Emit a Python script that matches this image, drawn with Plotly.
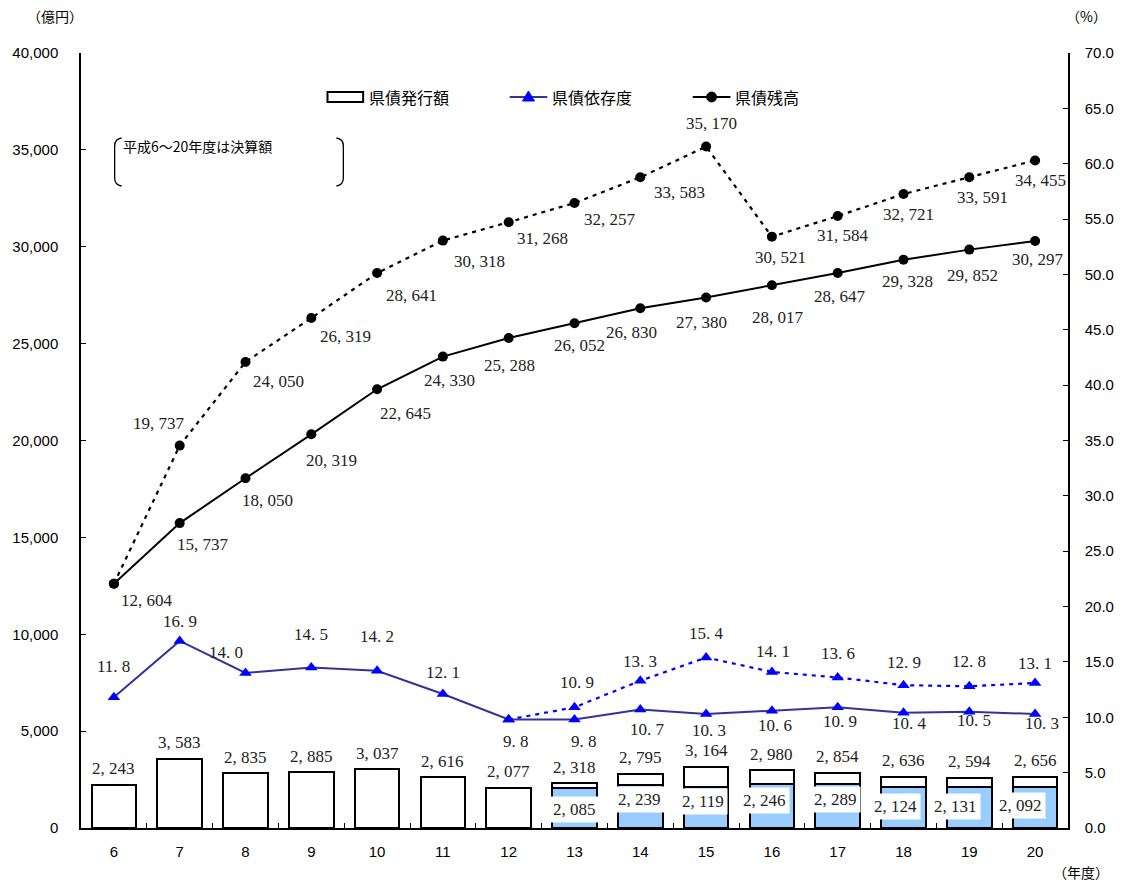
import plotly.graph_objects as go

# ---- data -------------------------------------------------------------
years = ["6", "7", "8", "9", "10", "11", "12", "13", "14", "15", "16", "17", "18", "19", "20"]

# 県債発行額 (億円): total issued, and the lower (shaded) part from 13
issue_total = [2243, 3583, 2835, 2885, 3037, 2616, 2077, 2318, 2795, 3164, 2980, 2854, 2636, 2594, 2656]
issue_lower = [None, None, None, None, None, None, None, 2085, 2239, 2119, 2246, 2289, 2124, 2131, 2092]

# 県債残高 (億円)
balance_solid = [12604, 15737, 18050, 20319, 22645, 24330, 25288, 26052, 26830, 27380, 28017, 28647, 29328, 29852, 30297]
balance_dotted = [12604, 19737, 24050, 26319, 28641, 30318, 31268, 32257, 33583, 35170, 30521, 31584, 32721, 33591, 34455]

# 県債依存度 (%)
ratio_solid = [11.8, 16.9, 14.0, 14.5, 14.2, 12.1, 9.8, 9.8, 10.7, 10.3, 10.6, 10.9, 10.4, 10.5, 10.3]
ratio_dotted = [None, None, None, None, None, None, 9.8, 10.9, 13.3, 15.4, 14.1, 13.6, 12.9, 12.8, 13.1]

# ---- label offsets in pixels (dx, dy; dy positive = up) ---------------
off_bal_solid = [(33, -17), (23, -21), (22, -22), (20, -26), (28, -24), (7, -24), (1, -27), (5, -22),
                 (-9, -24), (-5, -25), (6, -32), (2, -24), (4, -22), (3, -26), (3, -18)]
off_bal_dotted = [None, (-21, 22), (33, -19), (34, -18), (34, -22), (37, -21), (34, -16), (35, -16),
                  (39, -15), (5, 23), (9, -21), (5, -19), (5, -20), (13, -20), (5, -20)]
off_ratio_solid = [(0, 31), (0, 19), (-20, 21), (0, 33), (0, 34), (0, 22), (7, -22), (9, -22),
                   (7, -20), (3, -17), (3, -15), (2, -14), (6, -11), (5, -9), (7, -10)]
off_ratio_dotted = [None, None, None, None, None, None, None, (2, 25),
                    (0, 19), (0, 24), (1, 20), (0, 24), (0, 23), (0, 25), (0, 19)]
off_lower = [None] * 7 + [(0, -22), (-1, -15), (-3, -15), (-7, -16), (-2, -16), (-8, -20), (-14, -20), (-15, -18)]

# ---- geometry helpers -------------------------------------------------
W, H = 1126, 881
ML, MR, MT, MB = 80, 49, 53, 53
PW, PH = W - ML - MR, H - MT - MB


def px(x):
    return (x - ML) / PW


def py(y):
    return 1 - (y - MT) / PH


LABEL_FONT = dict(family="Liberation Serif, DejaVu Serif, serif", size=17, color="#222222")
GOTHIC = "Noto Sans CJK JP, Liberation Sans, sans-serif"


def fmt_int(v):
    return f"{v:,}".replace(",", ", ")


def fmt_pct(v):
    return f"{v:.1f}".replace(".", ". ")


fig = go.Figure()

# ---- bars -------------------------------------------------------------
base_vals = [lo if lo is not None else tot for lo, tot in zip(issue_lower, issue_total)]
base_colors = ["#99CCFF" if lo is not None else "white" for lo in issue_lower]
top_vals = [tot - lo if lo is not None else None for lo, tot in zip(issue_lower, issue_total)]

fig.add_trace(go.Bar(x=years, y=base_vals, marker=dict(color=base_colors, line=dict(color="black", width=2)),
                     showlegend=False, hoverinfo="skip"))
fig.add_trace(go.Bar(x=years, y=top_vals, marker=dict(color="white", line=dict(color="black", width=2)),
                     showlegend=False, hoverinfo="skip"))

# ---- 県債残高 lines ---------------------------------------------------
fig.add_trace(go.Scatter(x=years, y=balance_dotted, mode="lines+markers",
                         line=dict(color="black", width=2.2, dash="4px,5px"),
                         marker=dict(symbol="circle", size=10, color="black"), showlegend=False))
fig.add_trace(go.Scatter(x=years, y=balance_solid, mode="lines+markers",
                         line=dict(color="black", width=2),
                         marker=dict(symbol="circle", size=10, color="black"), showlegend=False))

# ---- 県債依存度 lines -------------------------------------------------
fig.add_trace(go.Scatter(x=years, y=ratio_dotted, mode="lines+markers", yaxis="y2",
                         line=dict(color="#0000FF", width=2.2, dash="4px,5px"),
                         marker=dict(symbol="triangle-up", size=11, color="#0000FF"), showlegend=False))
fig.add_trace(go.Scatter(x=years, y=ratio_solid, mode="lines+markers", yaxis="y2",
                         line=dict(color="#333399", width=2),
                         marker=dict(symbol="triangle-up", size=11, color="#0000FF"), showlegend=False))

# ---- data labels ------------------------------------------------------
# annotations on a category axis take the category index as x
ann = []


def label(i, y, text, dx, dy, yref="y", bg=None):
    a = dict(x=i, y=y, xref="x", yref=yref, text=text, showarrow=False,
             xshift=dx, yshift=dy, font=LABEL_FONT, xanchor="center", yanchor="middle")
    if bg:
        a.update(bgcolor=bg, borderpad=3)
    ann.append(a)


for i, v in enumerate(issue_total):
    label(i, v, fmt_int(v), 0, 16)
for i, (v, o) in enumerate(zip(issue_lower, off_lower)):
    if v is not None:
        label(i, v, fmt_int(v), o[0], o[1], bg="white")
for i, (v, o) in enumerate(zip(balance_solid, off_bal_solid)):
    label(i, v, fmt_int(v), o[0], o[1])
for i, (v, o) in enumerate(zip(balance_dotted, off_bal_dotted)):
    if o is not None:
        label(i, v, fmt_int(v), o[0], o[1])
for i, (v, o) in enumerate(zip(ratio_solid, off_ratio_solid)):
    label(i, v, fmt_pct(v), o[0], o[1], yref="y2")
for i, (v, o) in enumerate(zip(ratio_dotted, off_ratio_dotted)):
    if o is not None and v is not None:
        label(i, v, fmt_pct(v), o[0], o[1], yref="y2")

# ---- axis captions ----------------------------------------------------
cap_font = dict(family=GOTHIC, size=14, color="black")
ann.append(dict(x=px(54), y=py(16), xref="paper", yref="paper", text="（億円）", showarrow=False,
                font=cap_font, xanchor="center", yanchor="middle"))
ann.append(dict(x=px(1096), y=py(16), xref="paper", yref="paper", text="（%）", showarrow=False,
                font=cap_font, xanchor="center", yanchor="middle"))
ann.append(dict(x=px(1090), y=py(872), xref="paper", yref="paper", text="（年度）", showarrow=False,
                font=cap_font, xanchor="center", yanchor="middle"))

# ---- note with brackets -----------------------------------------------
ann.append(dict(x=px(120), y=py(146), xref="paper", yref="paper", text="平成6～20年度は決算額",
                showarrow=False, font=dict(family=GOTHIC, size=14, color="black"),
                xanchor="left", yanchor="middle"))

shapes = []


def pp(x, y):
    return f"{px(x):.5f},{py(y):.5f}"


shapes.append(dict(type="path", xref="paper", yref="paper",
                   path=f"M{pp(121,138)} Q{pp(114,139)} {pp(114,146)} L{pp(114,178)} Q{pp(114,185)} {pp(121,186)}",
                   line=dict(color="black", width=1.3)))
shapes.append(dict(type="path", xref="paper", yref="paper",
                   path=f"M{pp(338,138)} Q{pp(345,139)} {pp(345,146)} L{pp(345,178)} Q{pp(345,185)} {pp(338,186)}",
                   line=dict(color="black", width=1.3)))

# ---- legend -----------------------------------------------------------
leg_font = dict(family=GOTHIC, size=16, color="black")
LY = 97
shapes.append(dict(type="rect", xref="paper", yref="paper", x0=px(329), x1=px(365), y0=py(92), y1=py(102),
                   line=dict(color="black", width=2), fillcolor="white"))
ann.append(dict(x=px(369), y=py(LY), xref="paper", yref="paper", text="県債発行額", showarrow=False,
                font=leg_font, xanchor="left", yanchor="middle"))

shapes.append(dict(type="line", xref="paper", yref="paper", x0=px(513), x1=px(551), y0=py(LY), y1=py(LY),
                   line=dict(color="#333399", width=2)))
shapes.append(dict(type="path", xref="paper", yref="paper",
                   path=f"M{pp(532,91)} L{pp(538,101)} L{pp(526,101)} Z",
                   line=dict(color="#0000FF", width=1), fillcolor="#0000FF"))
ann.append(dict(x=px(554), y=py(LY), xref="paper", yref="paper", text="県債依存度", showarrow=False,
                font=leg_font, xanchor="left", yanchor="middle"))

shapes.append(dict(type="line", xref="paper", yref="paper", x0=px(698), x1=px(736), y0=py(LY), y1=py(LY),
                   line=dict(color="black", width=2)))
shapes.append(dict(type="circle", xref="paper", yref="paper", x0=px(712), x1=px(722), y0=py(92), y1=py(102),
                   line=dict(color="black", width=1), fillcolor="black"))
ann.append(dict(x=px(739), y=py(LY), xref="paper", yref="paper", text="県債残高", showarrow=False,
                font=leg_font, xanchor="left", yanchor="middle"))

# ---- layout -----------------------------------------------------------
tick_font = dict(family="Liberation Sans, Arial, sans-serif", size=15, color="black")
fig.update_layout(
    width=W, height=H,
    margin=dict(l=ML, r=MR, t=MT, b=MB, pad=0),
    paper_bgcolor="white", plot_bgcolor="white",
    barmode="stack", bargap=0.32,
    showlegend=False,
    xaxis=dict(type="category", categoryorder="array", categoryarray=years,
               range=[-0.5, len(years) - 0.5],
               tickson="boundaries", ticks="inside", ticklen=5, tickcolor="black",
               showline=True, linecolor="black", linewidth=1.5, showgrid=False,
               tickfont=tick_font, ticklabelstandoff=9),
    yaxis=dict(range=[0, 40000], dtick=5000, tickformat=",", ticks="inside", ticklen=5, tickcolor="black",
               showline=True, linecolor="black", linewidth=1.5, showgrid=False, zeroline=False,
               tickfont=tick_font, ticklabelstandoff=18),
    yaxis2=dict(range=[0, 70], dtick=5, tickformat=".1f", overlaying="y", side="right",
                ticks="inside", ticklen=5, tickcolor="black",
                showline=True, linecolor="black", linewidth=1.5, showgrid=False, zeroline=False,
                tickfont=tick_font, ticklabelstandoff=12),
    annotations=ann,
    shapes=shapes,
)

fig.write_html("out.html")
